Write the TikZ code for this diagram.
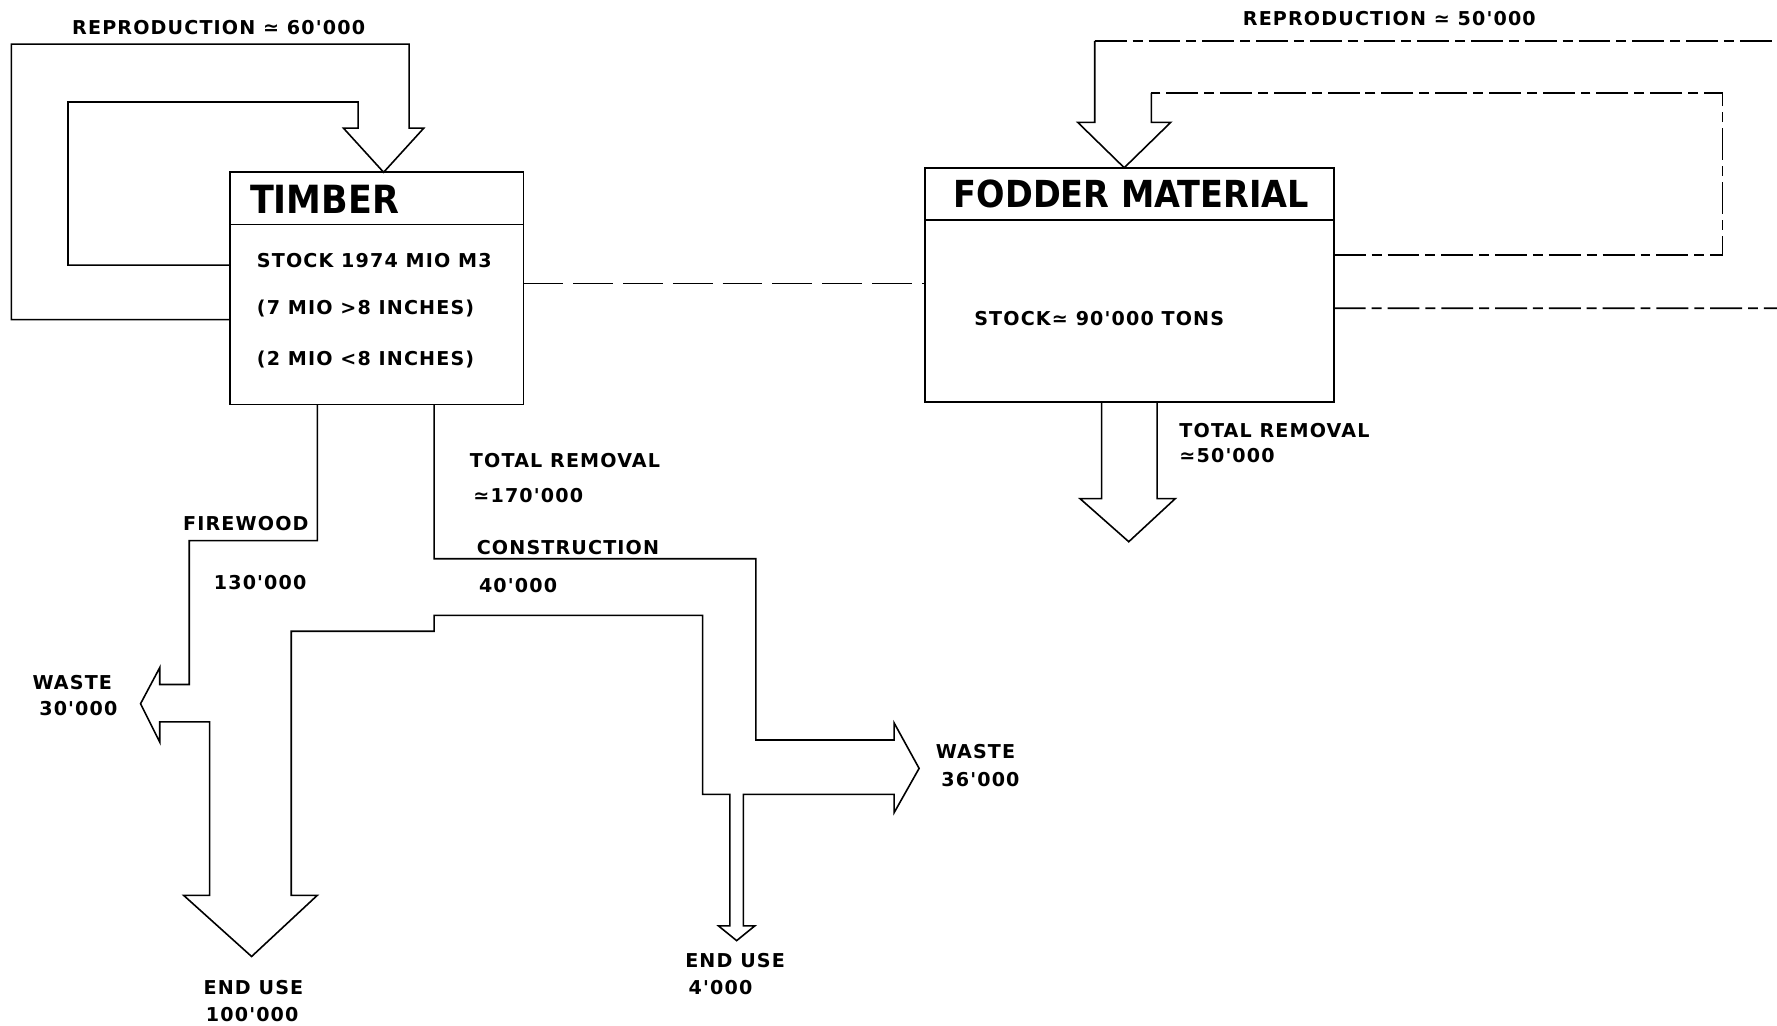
\documentclass[tikz,border=0pt]{standalone}
\usepackage{fontspec}
\setmainfont{DejaVu Sans}
\newfontfamily\lblfont[LetterSpace=6]{DejaVu Sans Bold}
\newfontfamily\titlefont{DejaVu Sans Condensed Bold}
\usepackage{tikz}
\usetikzlibrary{positioning,calc}

\begin{document}
\begin{tikzpicture}[x=0.02cm,y=-0.02cm,line width=0.8pt,line join=miter,
    stockbox/.style={draw,inner sep=0pt,outer sep=0pt},
    boxtitle/.style={font=\titlefont\fontsize{19.5}{22}\selectfont,inner sep=0pt,anchor=west},
    lbl/.style={font=\lblfont\fontsize{9.6}{11}\selectfont,inner sep=0pt,anchor=west},
    flow/.style={draw},
    link/.style={draw,dash pattern=on 20pt off 5pt},
    loose/.style={draw,dash pattern=on 16pt off 3pt on 5pt off 3pt}]
    \useasboundingbox (0,0) rectangle (1568,905);
    % stock boxes
    \node[stockbox,minimum width=5.18cm,minimum height=4.1cm] (timber) at (332.5,254.5) {};
    \node[stockbox,minimum width=7.22cm,minimum height=4.14cm] (fodder) at (996.5,251.5) {};
    \draw ($(timber.north west)+(0,46)$) -- ($(timber.north east)+(0,46)$);
    \draw ($(fodder.north west)+(0,46)$) -- ($(fodder.north east)+(0,46)$);
    \node[boxtitle] (timbertitle) at (220,176) {TIMBER};
    \node[boxtitle,font=\titlefont\fontsize{18.7}{22}\selectfont] (foddertitle) at (841,171) {FODDER MATERIAL};
    \node[lbl] (tstock) at (226,230) {STOCK 1974 MIO M3};
    \node[lbl] (tbig) at (226,272) {(7 MIO >8 INCHES)};
    \node[lbl] (tsmall) at (226,317) {(2 MIO <8 INCHES)};
    \node[lbl] (fstock) at (859,281) {STOCK≃ 90'000 TONS};
    \draw[link] ($(timber.east)+(0,-4.5)$) -- ($(fodder.west)+(0,-1.5)$);
    % timber reproduction
    \coordinate (tin) at ($(timber.north)+(6,0)$);
    \draw[flow] ($(timber.west)+(0,27.5)$) -| (10,39) -| (361,113) -- (374,113) -- (tin)
      -- (303,113) -- (316,113) |- (60,90) |- ($(timber.west)+(0,-20.5)$);
    \node[lbl] (trepro) at (63,24) {REPRODUCTION ≃ 60'000};
    % fodder reproduction
    \coordinate (fin) at ($(fodder.north)+(-4.5,0)$);
    \draw[loose] ($(fodder.east)+(0,-26.5)$) -| (1520,82) -- (1016,82);
    \draw[flow] (1016,82) -- (1016,108) -- (1033,108) -- (fin) -- (951,108) -- (966,108) -- (966,36);
    \draw[loose] (966,36) -- (1568,36);
    \draw[loose] ($(fodder.east)+(0,20.5)$) -- (1568,272);
    \node[lbl] (frepro) at (1096,16) {REPRODUCTION ≃ 50'000};
    % fodder removal
    \draw[flow] ($(fodder.south)+(-24.5,0)$) -- (972,440) -- (953,440) -- (996,478)
      -- (1037,440) -- (1021,440) -- ($(fodder.south)+(24.5,0)$);
    \node[lbl] (fremoval) at (1040,380) {TOTAL REMOVAL};
    \node[lbl] (fremnum) at (1040,402) {≃50'000};
    % timber removal
    \draw[flow] ($(timber.south)+(-52.5,0)$) |- (167,477) |- (141,604) -- (141,589) -- (124,621)
      -- (141,655) -- (141,637) -| (185,790) -- (162,790) -- (222,844) -- (280,790) -- (257,790)
      |- (383,557) -- (383,543) -| (620,701) -| (644,817) -- (634,817) -- (650,830) -- (666,817)
      -- (656,817) |- (789,701) -- (789,717) -- (811,678) -- (789,638) -- (789,653)
      -| (667,493) -| ($(timber.south)+(50.5,0)$);
    \node[lbl] (tremoval) at (414,406) {TOTAL REMOVAL};
    \node[lbl] (tremnum) at (417,437) {≃170'000};
    \node[lbl,anchor=east] (fire) at (273,462) {FIREWOOD};
    \node[lbl] (firenum) at (188,514) {130'000};
    \node[lbl] (constr) at (420,483) {CONSTRUCTION};
    \node[lbl] (constrnum) at (422,517) {40'000};
    \node[lbl] (waste1) at (28,602) {WASTE};
    \node[lbl] (waste1num) at (34,625) {30'000};
    \node[lbl] (enduse1) at (179,871) {END USE};
    \node[lbl] (enduse1num) at (181,895) {100'000};
    \node[lbl] (waste2) at (825,663) {WASTE};
    \node[lbl] (waste2num) at (830,688) {36'000};
    \node[lbl] (enduse2) at (604,848) {END USE};
    \node[lbl] (enduse2num) at (607,871) {4'000};
\end{tikzpicture}
\end{document}
